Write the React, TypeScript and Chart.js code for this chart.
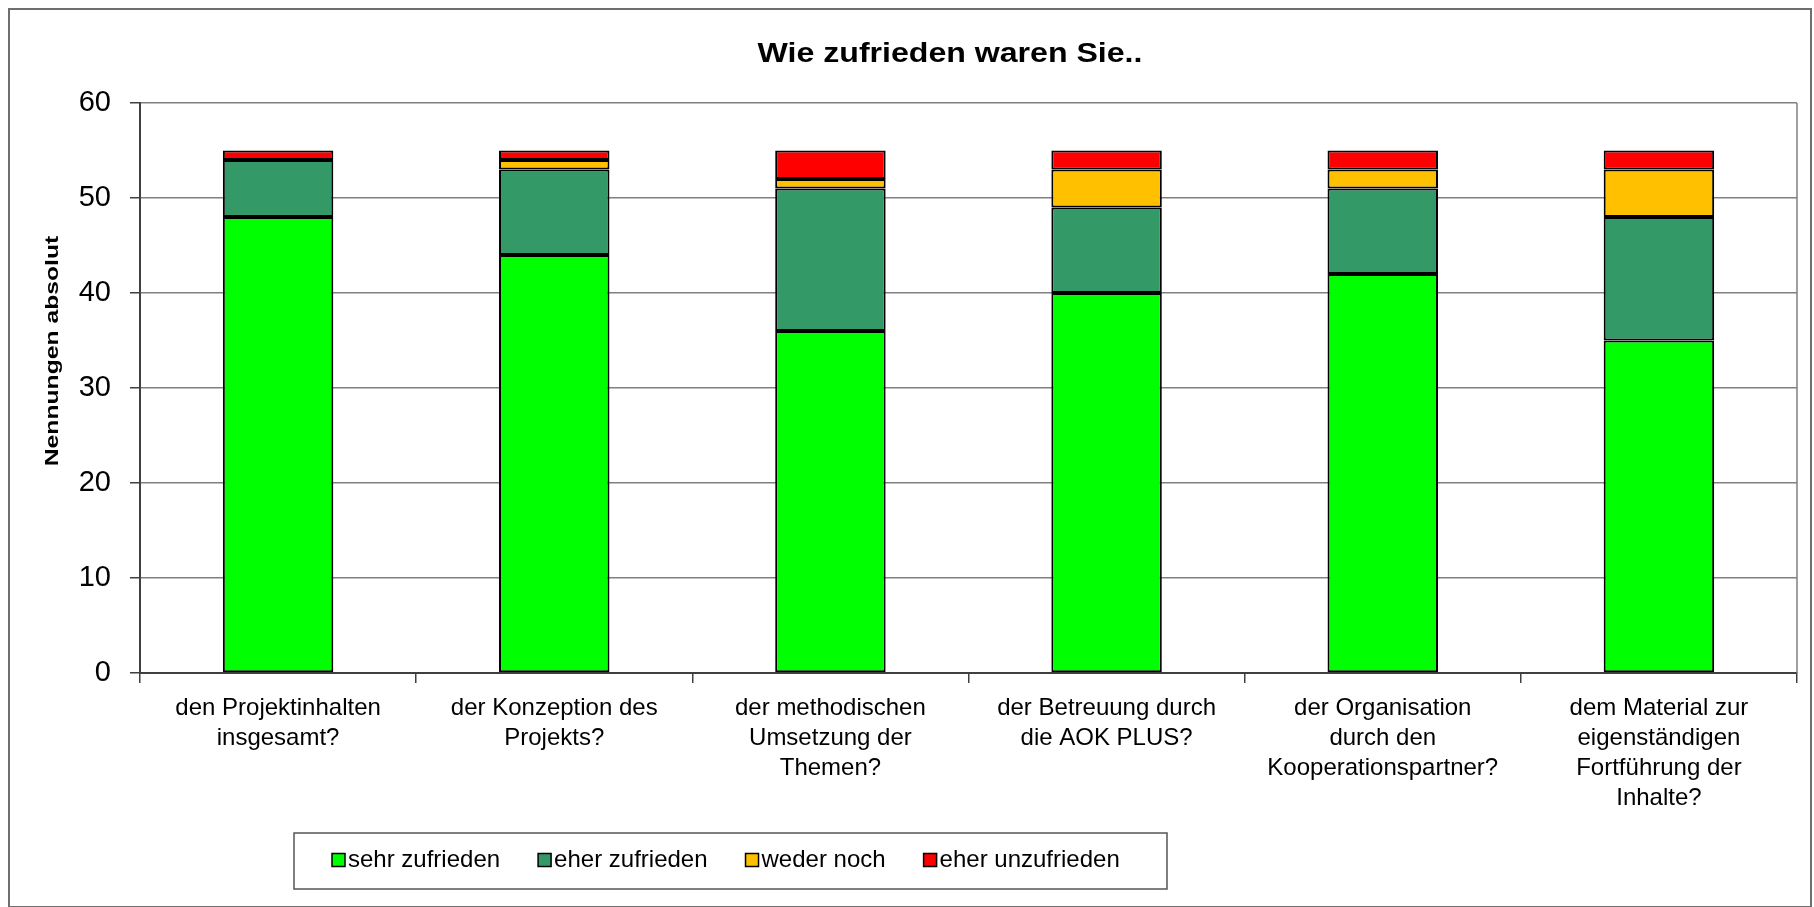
import React, { useEffect, useRef } from "react";
import { Chart, registerables } from "chart.js";

Chart.register(...registerables);

const FONT = "'Liberation Sans', Arial, sans-serif";

const chartTitle = "Wie zufrieden waren Sie..";
const yAxisTitle = "Nennungen absolut";

const categories: string[][] = [
  ["den Projektinhalten", "insgesamt?"],
  ["der Konzeption des", "Projekts?"],
  ["der methodischen", "Umsetzung der", "Themen?"],
  ["der Betreuung durch", "die AOK PLUS?"],
  ["der Organisation", "durch den", "Kooperationspartner?"],
  ["dem Material zur", "eigenständigen", "Fortführung der", "Inhalte?"],
];

const sehrZufrieden = [48, 44, 36, 40, 42, 35];
const eherZufrieden = [6, 9, 15, 9, 9, 13];
const wederNoch = [0, 1, 1, 4, 2, 5];
const eherUnzufrieden = [1, 1, 3, 2, 2, 2];

const seriesNames = ["sehr zufrieden", "eher zufrieden", "weder noch", "eher unzufrieden"];
const seriesColors = ["#00FF00", "#339966", "#FFC000", "#FF0000"];

const yTicks = [0, 10, 20, 30, 40, 50, 60];

const decorPlugin = {
  id: "decor",
  beforeDatasetsDraw(chart: any) {
    const { ctx, chartArea } = chart;
    ctx.save();
    ctx.strokeStyle = "#808080";
    ctx.lineWidth = 1.5;
    ctx.beginPath();
    ctx.moveTo(chartArea.right, chartArea.top);
    ctx.lineTo(chartArea.right, chartArea.bottom);
    ctx.stroke();
    ctx.restore();
  },
  afterDraw(chart: any) {
    const { ctx } = chart;
    ctx.save();
    // outer frame
    ctx.strokeStyle = "#6e6e6e";
    ctx.lineWidth = 2;
    ctx.strokeRect(9, 9, 1802, 898);

    // title
    ctx.fillStyle = "#000";
    ctx.font = `bold 28px ${FONT}`;
    ctx.textAlign = "center";
    ctx.textBaseline = "alphabetic";
    ctx.save();
    ctx.translate(950, 62);
    ctx.scale(1.146, 1);
    ctx.fillText(chartTitle, 0, 0);
    ctx.restore();

    // y axis title
    ctx.save();
    ctx.font = `bold 19px ${FONT}`;
    ctx.translate(53, 351);
    ctx.rotate(-Math.PI / 2);
    ctx.scale(1.3, 1);
    ctx.textAlign = "center";
    ctx.textBaseline = "middle";
    ctx.fillText(yAxisTitle, 0, 0);
    ctx.restore();

    // legend
    const boxL = 294, boxT = 833, boxR = 1167, boxB = 889;
    ctx.fillStyle = "#fff";
    ctx.fillRect(boxL, boxT, boxR - boxL, boxB - boxT);
    ctx.strokeStyle = "#555";
    ctx.lineWidth = 1.5;
    ctx.strokeRect(boxL, boxT, boxR - boxL, boxB - boxT);
    ctx.font = `24px ${FONT}`;
    ctx.textAlign = "left";
    ctx.textBaseline = "middle";
    const cy = 860;
    let x = 332;
    chart.data.datasets.forEach((ds: any) => {
      ctx.fillStyle = ds.backgroundColor;
      ctx.fillRect(x, cy - 6.5, 13, 13);
      ctx.strokeStyle = "#000";
      ctx.lineWidth = 1.5;
      ctx.strokeRect(x, cy - 6.5, 13, 13);
      ctx.fillStyle = "#000";
      ctx.fillText(ds.label, x + 16, cy);
      x += 16 + ctx.measureText(ds.label).width + 38;
    });
    ctx.restore();
  },
};

export default function App() {
  const canvasRef = useRef<HTMLCanvasElement | null>(null);

  useEffect(() => {
    if (!canvasRef.current) return;
    const seriesValues = [sehrZufrieden, eherZufrieden, wederNoch, eherUnzufrieden];
    const chart = new Chart(canvasRef.current, {
      type: "bar",
      data: {
        labels: categories,
        datasets: seriesNames.map((name, i) => ({
          label: name,
          data: seriesValues[i],
          backgroundColor: seriesColors[i],
          borderColor: "#000",
          borderWidth: 2,
          borderSkipped: false,
          barPercentage: 0.4,
          categoryPercentage: 1,
        })),
      },
      options: {
        responsive: true,
        maintainAspectRatio: false,
        animation: false,
        layout: { padding: { left: 0, right: 17, top: 103, bottom: 0 } },
        plugins: {
          legend: { display: false },
          title: { display: false },
          tooltip: { enabled: false },
        },
        scales: {
          x: {
            stacked: true,
            grid: {
              display: true,
              drawOnChartArea: false,
              drawTicks: true,
              tickLength: 10,
              color: "#404040",
              lineWidth: 1.5,
              offset: true,
            },
            border: { display: true, color: "#404040", width: 2 },
            ticks: {
              font: { family: FONT, size: 24, lineHeight: 1.25 },
              color: "#000",
              padding: 10,
              maxRotation: 0,
              minRotation: 0,
              autoSkip: false,
            },
            afterFit: (s: any) => {
              s.height = 234;
            },
          },
          y: {
            stacked: true,
            min: 0,
            max: 60,
            afterBuildTicks: (s: any) => {
              s.ticks = yTicks.map((v) => ({ value: v }));
            },
            ticks: {
              font: { family: FONT, size: 29 },
              color: "#000",
              padding: 19,
            },
            grid: {
              color: "#808080",
              lineWidth: 1.5,
              tickLength: 10,
              tickColor: "#404040",
            },
            border: { display: true, color: "#404040", width: 2 },
            afterFit: (s: any) => {
              s.width = 140;
            },
          },
        },
      },
      plugins: [decorPlugin],
    });
    return () => chart.destroy();
  }, []);

  return (
    <div
      style={{
        position: "fixed",
        left: 0,
        top: 0,
        width: 1814,
        height: 907,
        background: "#fff",
      }}
    >
      <canvas ref={canvasRef} style={{ display: "block" }} />
    </div>
  );
}
